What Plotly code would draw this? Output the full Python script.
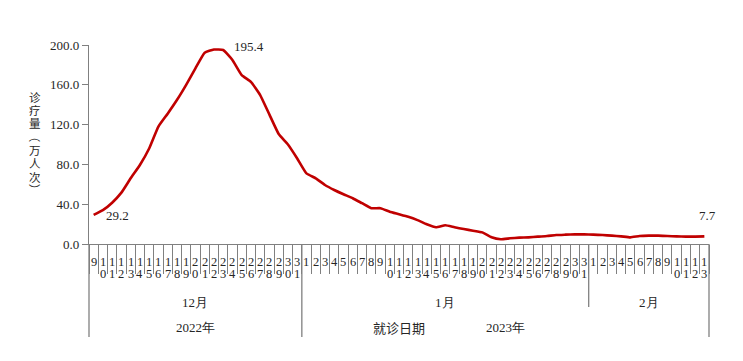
import plotly.graph_objects as go

# ---- data ----
dec_days = list(range(9, 32))
dec_vals = [29.2, 34.0, 41.5, 51.6, 66.0, 79.4, 96.0, 118.0, 131.0, 144.7, 160.0,
            176.6, 192.3, 195.4, 195.0, 185.0, 169.8, 163.0, 149.7, 130.0, 110.5,
            100.0, 86.0]
jan_days = list(range(1, 32))
jan_vals = [71.0, 66.0, 59.3, 54.3, 50.0, 46.0, 41.0, 36.0, 36.0, 32.5, 30.0, 27.4,
            24.0, 19.8, 16.8, 18.8, 16.8, 15.0, 13.4, 11.7, 6.7, 4.7, 5.7, 6.4,
            6.7, 7.4, 8.0, 9.0, 9.4, 9.7, 9.7]
feb_days = list(range(1, 14))
feb_vals = [9.4, 9.0, 8.4, 7.7, 6.7, 8.0, 8.4, 8.4, 8.0, 7.7, 7.4, 7.4, 7.7]

months = ["12月", "1月", "2月"]
years = ["2022年", "2023年"]
x_title = "就诊日期"
y_title = "诊疗量（万人次）"
y_ticks = [0, 40, 80, 120, 160, 200]

days = dec_days + jan_days + feb_days
vals = dec_vals + jan_vals + feb_vals
n = len(days)
idx = list(range(n))

RED = "#C00000"
GRAY = "#808080"
TXT = "#262626"
SERIF = "Liberation Serif, Times New Roman, serif"
CJK = "Noto Sans CJK SC, sans-serif"

fig = go.Figure()
fig.add_trace(go.Scatter(x=idx, y=vals, mode="lines",
                         line=dict(color=RED, width=2.6, shape="spline", smoothing=0.4),
                         hoverinfo="skip", showlegend=False))

ann = []
# day labels (two rows of digits)
for i, d in enumerate(days):
    s = str(d)
    ann.append(dict(x=i, y=0, xref="x", yref="paper", text=s[0], showarrow=False,
                    xanchor="center", yanchor="middle", yshift=-18, borderpad=0,
                    font=dict(family=SERIF, size=12.5, color=TXT)))
    if len(s) > 1:
        ann.append(dict(x=i, y=0, xref="x", yref="paper", text=s[1], showarrow=False,
                        xanchor="center", yanchor="middle", yshift=-30, borderpad=0,
                        font=dict(family=SERIF, size=12.5, color=TXT)))

# month groups
lens = [len(dec_days), len(jan_days), len(feb_days)]
starts = [0, lens[0], lens[0] + lens[1]]
for m, s0, L in zip(months, starts, lens):
    ann.append(dict(x=s0 + (L - 1) / 2, y=0, xref="x", yref="paper", text=m,
                    showarrow=False, xanchor="center", yanchor="middle", yshift=-58,
                    font=dict(family=SERIF, size=13, color=TXT)))
# years
ann.append(dict(x=(lens[0] - 1) / 2, y=0, xref="x", yref="paper", text=years[0],
                showarrow=False, yanchor="middle", yshift=-83,
                font=dict(family=SERIF, size=13, color=TXT)))
ann.append(dict(x=lens[0] + (lens[1] + lens[2] - 1) / 2, y=0, xref="x", yref="paper",
                text=years[1], showarrow=False, yanchor="middle", yshift=-83,
                font=dict(family=SERIF, size=13, color=TXT)))
ann.append(dict(x=(n - 1) / 2, y=0, xref="x", yref="paper", text=x_title,
                showarrow=False, yanchor="middle", yshift=-83,
                font=dict(family=CJK, size=13, color=TXT)))

# y title: upright characters stacked vertically, brackets turned
k = len(y_title)
step = 13.3
for j, ch in enumerate(y_title):
    rot = 90 if ch in "（）" else 0
    ann.append(dict(x=0, y=0.506, xref="paper", yref="paper", text=ch,
                    showarrow=False, xanchor="center", yanchor="middle", xshift=-54,
                    yshift=(k - 1) / 2 * step - j * step, borderpad=0, textangle=rot,
                    font=dict(family=CJK, size=11.5, color=TXT)))

# data labels
pk = vals.index(max(vals))
ann.append(dict(x=0, y=vals[0], text=f"{vals[0]:.1f}", showarrow=False,
                xanchor="left", yanchor="middle", xshift=10, yshift=-1,
                font=dict(family=SERIF, size=13, color=TXT)))
ann.append(dict(x=pk, y=vals[pk], text=f"{vals[pk]:.1f}", showarrow=False,
                xanchor="left", yanchor="middle", xshift=18, yshift=3,
                font=dict(family=SERIF, size=13, color=TXT)))
ann.append(dict(x=n - 1, y=vals[-1], text=f"{vals[-1]:.1f}", showarrow=False,
                xanchor="center", yanchor="middle", xshift=3, yshift=21,
                font=dict(family=SERIF, size=13, color=TXT)))

# group divider lines (paper coords derived from category index)
def px(b):
    return (b + 0.5) / n

shapes = []
bounds = [(-0.5, -0.467), (starts[1] - 0.5, -0.467), (starts[2] - 0.5, -0.317), (n - 0.5, -0.467)]
for b, yb in bounds:
    shapes.append(dict(type="line", xref="paper", yref="paper", x0=px(b), x1=px(b),
                       y0=0, y1=yb, line=dict(color=GRAY, width=1.3)))

fig.update_layout(
    width=743, height=361,
    margin=dict(l=89, r=34, t=45, b=117),
    paper_bgcolor="white", plot_bgcolor="white",
    annotations=ann, shapes=shapes,
    xaxis=dict(range=[-0.5, n - 0.5], showgrid=False, zeroline=False,
               showline=True, linecolor=GRAY, linewidth=1.3,
               tickvals=[i - 0.5 for i in range(n + 1)], ticks="outside",
               ticklen=29, tickcolor=GRAY, tickwidth=1.1, showticklabels=False),
    yaxis=dict(range=[0, 200], showgrid=False, zeroline=False,
               showline=True, linecolor=GRAY, linewidth=1.3,
               tickvals=y_ticks, tickformat=".1f", ticks="outside", ticklen=6,
               tickcolor=GRAY, tickfont=dict(family=SERIF, size=13, color=TXT)),
)

fig.write_html("out.html", config={"displayModeBar": False},
               post_script="document.body.style.margin='0';")
